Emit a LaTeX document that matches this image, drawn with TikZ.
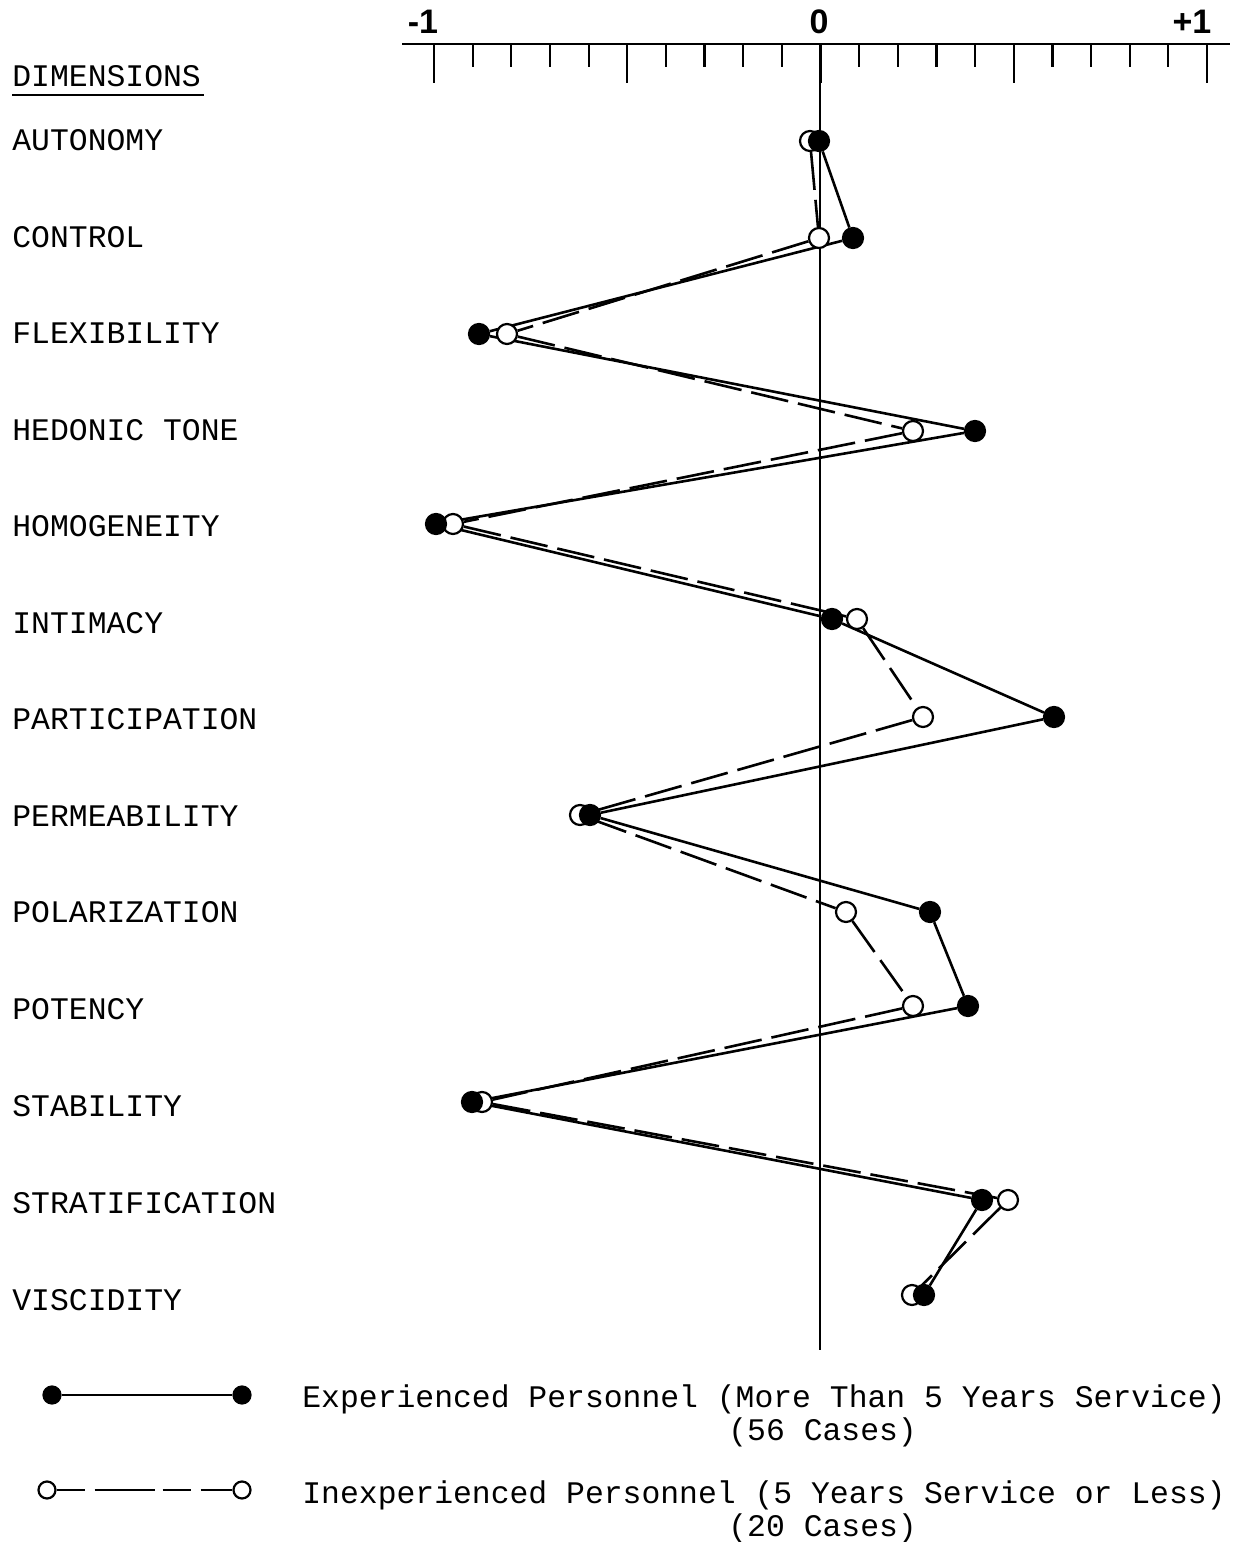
\documentclass[tikz,border=0pt]{standalone}
\usepackage{fontspec}
\usetikzlibrary{backgrounds}
\newfontfamily\typew{Liberation Mono}
\newfontfamily\numfont{Liberation Sans}
\tikzset{
  dimlabel/.style={anchor=base west, inner sep=0pt, font=\typew\fontsize{15.7}{18}\selectfont},
  axislabel/.style={inner sep=0pt, font=\numfont\bfseries\fontsize{17}{18}\selectfont},
  expdot/.style={circle, draw, fill=black, minimum size=10pt, inner sep=0pt, line width=1.1pt},
  inexpdot/.style={circle, draw, fill=white, minimum size=10pt, inner sep=0pt, line width=1.1pt},
  expline/.style={line width=1.3pt},
  inexpline/.style={line width=1.3pt, dash pattern=on 19pt off 5pt},
}
\begin{document}
\begin{tikzpicture}[x=0.5pt,y=-0.5pt]
            \useasboundingbox (0,0) rectangle (1250,1542);
            % scale at the top
            \coordinate (axl) at (402,44);
            \coordinate (axr) at (1230,44);
            \draw [line width=1.3pt] (axl) -- (axr);
            \foreach \t in {0,...,20}{
              \pgfmathsetmacro{\tx}{434+\t*38.65}
              \pgfmathtruncatemacro{\major}{mod(\t,5)==0 ? 1 : 0}
              \ifnum\major=1
                \draw [line width=1.1pt] (\tx,44) -- (\tx,83);
              \else
                \draw [line width=1.1pt] (\tx,44) -- (\tx,67);
              \fi
            }
            \node [axislabel] (mone) at (423,22) {-1};
            \node [axislabel] (zero) at (819,22) {0};
            \node [axislabel] (pone) at (1192,22) {+1};
            \coordinate (top0) at (820,44);
            \coordinate (bot0) at (820,1350);
            \draw [line width=1pt] (top0) -- (bot0);
            % dimensions
            \node [dimlabel] (dimhead) at (12,86) {DIMENSIONS};
            \draw [line width=1pt] (dimhead.south west) ++(0,8) -- ++(192,0);
            \foreach \n/\name/\yl in {1/AUTONOMY/150, 2/CONTROL/247, 3/FLEXIBILITY/343,
                4/HEDONIC TONE/440, 5/HOMOGENEITY/536, 6/INTIMACY/633, 7/PARTICIPATION/729,
                8/PERMEABILITY/826, 9/POLARIZATION/922, 10/POTENCY/1019, 11/STABILITY/1116,
                12/STRATIFICATION/1213, 13/VISCIDITY/1310}
              \node [dimlabel] (dim\n) at (12,\yl) {\name};
            % scores
            \foreach \n/\y/\xe/\xi in {1/141/819/810, 2/238/853/819, 3/334/479/507,
                4/431/975/913, 5/524/436/453, 6/619/832/857, 7/717/1054/923,
                8/815/590/580, 9/912/930/846, 10/1006/968/913, 11/1102/472/482,
                12/1200/982/1008, 13/1295/924/912}{
              \node [inexpdot] (i\n) at (\xi,\y) {};
              \node [expdot] (e\n) at (\xe,\y) {};
            }
            \begin{pgfonlayer}{background}
            \draw [expline] (e1) -- (e2) -- (e3) -- (e4) -- (e5) -- (e6) -- (e7)
              -- (e8) -- (e9) -- (e10) -- (e11) -- (e12) -- (e13);
            \draw [inexpline] (i1) -- (i2) -- (i3) -- (i4) -- (i5) -- (i6) -- (i7)
              -- (i8) -- (i9) -- (i10) -- (i11) -- (i12) -- (i13);
            \end{pgfonlayer}
            % key
            \node [expdot, minimum size=8.5pt] (ke1) at (52,1395) {};
            \node [expdot, minimum size=8.5pt] (ke2) at (242,1395) {};
            \draw [expline] (ke1) -- (ke2);
            \node [inexpdot, minimum size=8.5pt] (ki1) at (47,1490) {};
            \node [inexpdot, minimum size=8.5pt] (ki2) at (242,1490) {};
            \draw [line width=1.3pt, dash pattern=on 14pt off 5pt on 30pt off 4pt] (ki1) -- (ki2);
            \node [dimlabel] (keyexp) at (302,1407) {Experienced Personnel (More Than 5 Years Service)};
            \node [dimlabel] (keyexpn) at (728,1440) {(56 Cases)};
            \node [dimlabel] (keyinx) at (302,1503) {Inexperienced Personnel (5 Years Service or Less)};
            \node [dimlabel] (keyinxn) at (728,1536) {(20 Cases)};
\end{tikzpicture}
\end{document}
